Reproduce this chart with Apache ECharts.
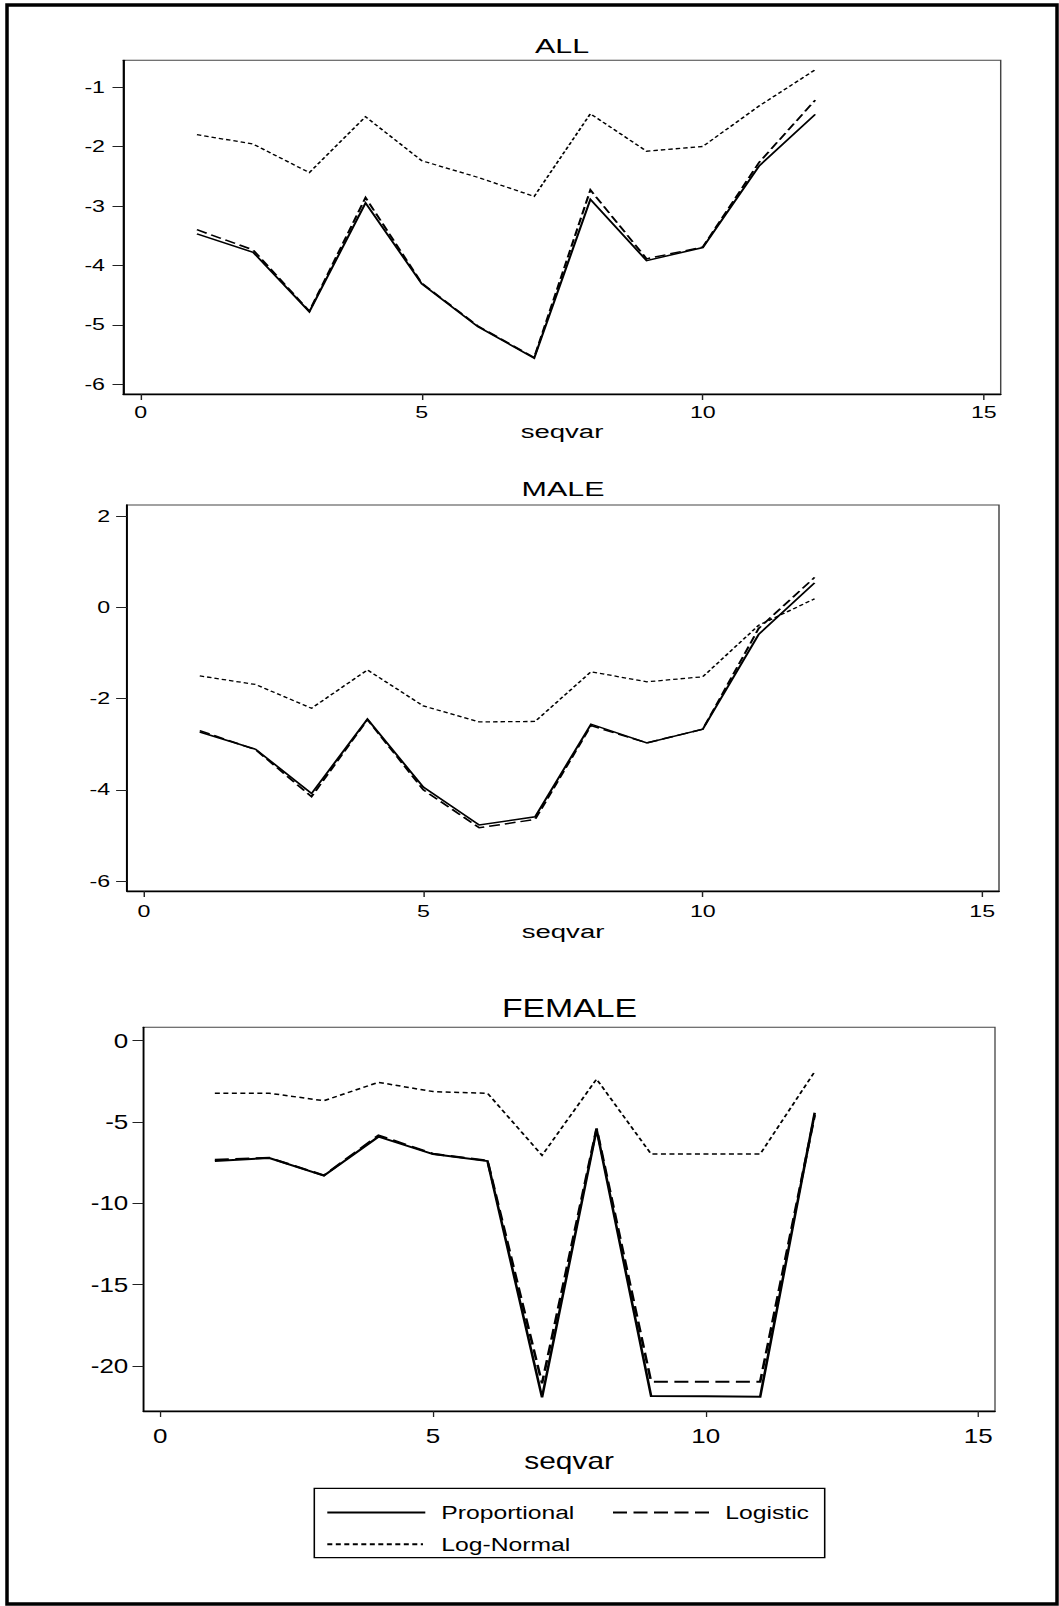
<!DOCTYPE html>
<html><head><meta charset="utf-8">
<script src="https://cdn.jsdelivr.net/npm/echarts@6/dist/echarts.min.js"></script>
<style>
html,body{margin:0;padding:0;background:#fff;width:1059px;height:1606px;overflow:hidden;}
.layer{position:absolute;left:0;top:0;height:1606px;transform-origin:0 0;}
</style></head><body>
<div id="frame" class="layer"></div>
<div id="p1" class="layer"></div>
<div id="p2" class="layer"></div>
<div id="p3" class="layer"></div>
<script>
// ---------------- data ----------------
const seqvar = [1, 2, 3, 4, 5, 6, 7, 8, 9, 10, 11, 12];

const allProportional = [-3.47, -3.78, -4.78, -2.95, -4.31, -5.03, -5.56, -2.89, -3.92, -3.70, -2.33, -1.46];
const allLogistic     = [-3.40, -3.74, -4.77, -2.86, -4.30, -5.02, -5.55, -2.73, -3.89, -3.69, -2.27, -1.22];
const allLogNormal    = [-1.80, -1.96, -2.44, -1.50, -2.24, -2.52, -2.84, -1.45, -2.08, -2.00, -1.32, -0.71];

const maleProportional = [-2.73, -3.11, -4.08, -2.45, -3.94, -4.77, -4.59, -2.56, -2.97, -2.67, -0.59, 0.54];
const maleLogistic     = [-2.70, -3.12, -4.15, -2.46, -4.00, -4.83, -4.65, -2.59, -2.97, -2.67, -0.46, 0.66];
const maleLogNormal    = [-1.50, -1.69, -2.21, -1.37, -2.16, -2.51, -2.50, -1.41, -1.63, -1.52, -0.39, 0.19];

const femaleProportional = [-7.40, -7.21, -8.30, -5.90, -6.97, -7.40, -21.93, -5.45, -21.85, -21.87, -21.90, -4.43];
const femaleLogistic     = [-7.32, -7.20, -8.28, -5.82, -6.95, -7.38, -21.07, -5.39, -20.97, -20.97, -20.97, -4.57];
const femaleLogNormal    = [-3.23, -3.23, -3.69, -2.56, -3.13, -3.23, -7.05, -2.36, -6.97, -6.97, -6.97, -1.90];

const xTicks = [0, 5, 10, 15];
const allYTicks = [-6, -5, -4, -3, -2, -1];
const maleYTicks = [-6, -4, -2, 0, 2];
const femaleYTicks = [-20, -15, -10, -5, 0];

const panelTitles = ['ALL', 'MALE', 'FEMALE'];
const xName = 'seqvar';
const seriesNames = ['Proportional', 'Logistic', 'Log-Normal'];

// ---------------- layout / style ----------------
const W = 1059, H = 1606;
const FONT = "'Liberation Sans', Arial, Helvetica, sans-serif";

function pairs(xs, ys) { return xs.map((x, i) => [x, ys[i]]); }

function makeLayer(id, s) {
  const dom = document.getElementById(id);
  dom.style.width = (W / s) + 'px';
  dom.style.transform = 'scaleX(' + s + ')';
  return echarts.init(dom, null, { renderer: 'svg', width: W / s, height: H });
}

function panelOption(c) {
  const s = c.s;
  const X = v => v / s;
  const lineSeries = (name, vals, width, dash, z) => ({
    name: name, type: 'line', data: pairs(seqvar, vals), symbol: 'none', silent: true, z: z,
    lineStyle: { color: '#000', width: width, type: dash, cap: 'butt', join: 'miter' },
    itemStyle: { color: '#000' }
  });
  const opt = {
    animation: false,
    backgroundColor: 'transparent',
    textStyle: { fontFamily: FONT },
    grid: {
      left: X(c.box.L), top: c.box.T, width: X(c.box.R - c.box.L), height: c.box.B - c.box.T,
      show: true, borderColor: '#444', borderWidth: 1, backgroundColor: 'transparent',
      containLabel: false, outerBoundsMode: 'none'
    },
    xAxis: {
      type: 'value', min: c.xExt[0], max: c.xExt[1],
      name: xName, nameLocation: 'middle', nameGap: c.nameGap,
      nameTextStyle: { fontSize: c.nameFont, color: '#000', fontFamily: FONT },
      axisLine: { show: true, onZero: false, lineStyle: { color: '#000', width: 1.3 } },
      axisTick: { show: true, inside: false, length: c.xTickLen, customValues: xTicks, lineStyle: { color: '#222', width: 1 } },
      axisLabel: { customValues: xTicks, margin: c.xLabelMargin, fontSize: c.tickFont, color: '#000', fontFamily: FONT },
      splitLine: { show: false }
    },
    yAxis: {
      type: 'value', min: c.yExt[0], max: c.yExt[1],
      axisLine: { show: true, onZero: false, lineStyle: { color: '#000', width: 1.3 } },
      axisTick: { show: true, inside: false, length: X(c.yTickLen), customValues: c.yTicks, lineStyle: { color: '#222', width: 1 } },
      axisLabel: { customValues: c.yTicks, margin: X(c.yLabelGap), fontSize: c.tickFont, color: '#000', fontFamily: FONT },
      splitLine: { show: false }
    },
    series: [
      lineSeries(seriesNames[2], c.logn, c.lnW, c.lnDash.map(X), 2),
      lineSeries(seriesNames[1], c.logi, c.lgW, c.lgDash.map(X), 3),
      lineSeries(seriesNames[0], c.prop, c.prW, 'solid', 4)
    ],
    graphic: [{
      type: 'text', x: X(c.titleX), y: c.titleY, silent: true,
      style: { text: c.title, fontSize: c.titleFont, fontFamily: FONT, fill: '#000', align: 'center', verticalAlign: 'middle' }
    }]
  };
  if (c.legend) {
    const lg = c.legend;
    opt.legend = lg.items.map(it => ({
      data: [it.name], left: X(it.x), top: it.y - lg.ih / 2, orient: 'horizontal',
      itemWidth: X(it.w), itemHeight: lg.ih, padding: 0, selectedMode: false,
      itemStyle: { color: 'rgba(0,0,0,0)', borderWidth: 0 },
      textStyle: { fontSize: lg.font, color: '#000', fontFamily: FONT, padding: [0, 0, 0, X(it.gap) - 5] }
    }));
    opt.graphic.push({
      type: 'rect', silent: true,
      shape: { x: X(lg.box.L), y: lg.box.T, width: X(lg.box.R - lg.box.L), height: lg.box.B - lg.box.T },
      style: { fill: 'none', stroke: '#000', lineWidth: 1.2 }
    });
  }
  return opt;
}

// outer frame (unscaled layer)
const frameChart = makeLayer('frame', 1);
frameChart.setOption({
  animation: false, backgroundColor: '#fff',
  graphic: [{ type: 'rect', silent: true, shape: { x: 7, y: 5, width: 1050, height: 1599 },
    style: { fill: 'none', stroke: '#000', lineWidth: 3.5 } }]
});

const S12 = 1.45, S3 = 1.3;

makeLayer('p1', S12).setOption(panelOption({
  s: S12, title: panelTitles[0], titleX: 562, titleY: 45.5, titleFont: 21,
  box: { L: 123.3, R: 1000.7, T: 60.3, B: 394 },
  xExt: [-0.31, 15.3], yExt: [-6.163, -0.551], yTicks: allYTicks,
  tickFont: 16, nameFont: 19, nameGap: 28, xLabelMargin: 10, xTickLen: 6, yTickLen: 10.8, yLabelGap: 18.3,
  prop: allProportional, logi: allLogistic, logn: allLogNormal,
  prW: 1.5, lgW: 1.5, lnW: 1.3, lgDash: [11, 5], lnDash: [4.5, 3]
}));

makeLayer('p2', S12).setOption(panelOption({
  s: S12, title: panelTitles[1], titleX: 563, titleY: 489, titleFont: 21,
  box: { L: 127.1, R: 999, T: 505, B: 891 },
  xExt: [-0.30, 15.30], yExt: [-6.219, 2.248], yTicks: maleYTicks,
  tickFont: 16, nameFont: 19, nameGap: 31, xLabelMargin: 12, xTickLen: 6, yTickLen: 11, yLabelGap: 17,
  prop: maleProportional, logi: maleLogistic, logn: maleLogNormal,
  prW: 1.5, lgW: 1.5, lnW: 1.3, lgDash: [11, 5], lnDash: [4.5, 3]
}));

makeLayer('p3', S3).setOption(panelOption({
  s: S3, title: panelTitles[2], titleX: 569.5, titleY: 1008.3, titleFont: 26,
  box: { L: 143.3, R: 995, T: 1027.3, B: 1411 },
  xExt: [-0.312, 15.306], yExt: [-22.77, 0.824], yTicks: femaleYTicks,
  tickFont: 20, nameFont: 23, nameGap: 39, xLabelMargin: 15, xTickLen: 6, yTickLen: 10.8, yLabelGap: 15,
  prop: femaleProportional, logi: femaleLogistic, logn: femaleLogNormal,
  prW: 2, lgW: 2, lnW: 1.5, lgDash: [14, 6.5], lnDash: [5, 3.5],
  legend: {
    ih: 14, font: 19,
    box: { L: 314.3, R: 824.7, T: 1488.3, B: 1557.7 },
    items: [
      { name: seriesNames[0], x: 326, y: 1510, w: 98, gap: 16 },
      { name: seriesNames[1], x: 611.7, y: 1510, w: 98.3, gap: 14 },
      { name: seriesNames[2], x: 326, y: 1541.7, w: 95.7, gap: 18.3 }
    ]
  }
}));
</script>
</body></html>
